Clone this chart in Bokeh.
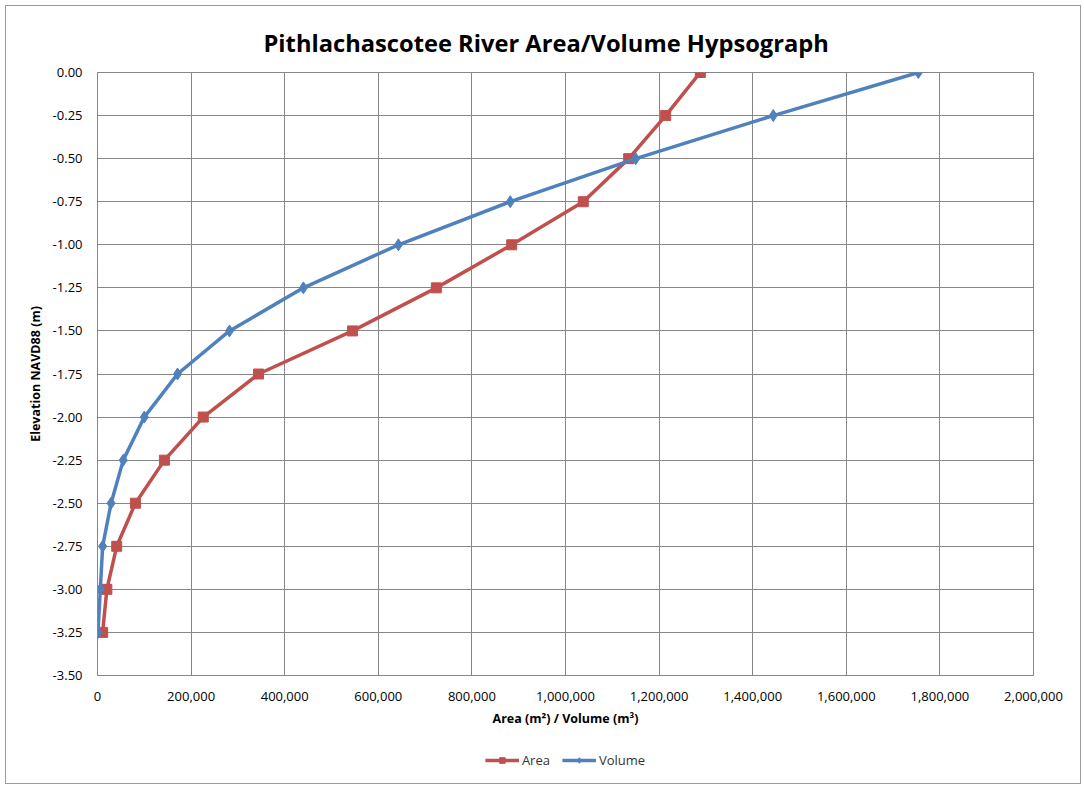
from bokeh.plotting import figure
from bokeh.layouts import column
from bokeh.models import (Legend, LegendItem, FixedTicker, NumeralTickFormatter,
                          Title)
from bokeh.embed import file_html
from bokeh.resources import INLINE

elevation = [0.00, -0.25, -0.50, -0.75, -1.00, -1.25, -1.50, -1.75,
             -2.00, -2.25, -2.50, -2.75, -3.00, -3.25]
area = [1288000, 1214000, 1135000, 1038000, 885000, 724000, 545000, 344000,
        226000, 143000, 81000, 41000, 20000, 11000]
volume = [1754000, 1444000, 1150000, 882000, 643000, 440000, 282000, 171000,
          100000, 55000, 29000, 11000, 6000, 1000]

x_ticks = [0, 200000, 400000, 600000, 800000, 1000000, 1200000, 1400000,
           1600000, 1800000, 2000000]
y_ticks = [0.00, -0.25, -0.50, -0.75, -1.00, -1.25, -1.50, -1.75, -2.00,
           -2.25, -2.50, -2.75, -3.00, -3.25, -3.50]

FONT = "Open Sans"
RED = "#C0504D"
BLUE = "#4F81BD"
GRID = "#868686"

p = figure(frame_width=936, frame_height=603, output_backend="svg",
           toolbar_location=None,
           x_range=(0, 2000000), y_range=(-3.5, 0.0),
           min_border_left=91, min_border_right=47, min_border_top=66,
           min_border_bottom=62)

p.title = Title(text="Pithlachascotee River Area/Volume Hypsograph",
                align="left", text_font=FONT, text_font_size="23.7px",
                text_font_style="bold", text_color="#000000", offset=166,
                standoff=28)

p.xaxis.ticker = FixedTicker(ticks=x_ticks)
p.yaxis.ticker = FixedTicker(ticks=y_ticks)
p.xaxis.formatter = NumeralTickFormatter(format="0,0")
p.yaxis.formatter = NumeralTickFormatter(format="0.00")

for ax in (p.xaxis, p.yaxis):
    ax.major_label_text_font = FONT
    ax.major_label_text_font_size = "13px"
    ax.major_label_text_color = "#000000"
    ax.axis_label_text_font = FONT
    ax.axis_label_text_font_size = "12.5px"
    ax.axis_label_text_font_style = "bold"
    ax.axis_label_text_color = "#000000"
    ax.axis_line_color = GRID
    ax.major_tick_line_color = None
    ax.minor_tick_line_color = None

p.xaxis.axis_label = "Area (m²) / Volume (m³)"
p.yaxis.axis_label = "Elevation NAVD88 (m)"
p.xaxis.major_label_standoff = 10
p.xaxis.axis_label_standoff = 6
p.yaxis.major_label_standoff = 9
p.yaxis.axis_label_standoff = 6

p.xgrid.grid_line_color = GRID
p.ygrid.grid_line_color = GRID
p.xgrid.grid_line_width = 1
p.ygrid.grid_line_width = 1
p.outline_line_color = GRID
p.outline_line_width = 1

p.line(area, elevation, line_color=RED, line_width=3.5)
p.scatter(area, elevation, marker="square", size=10, fill_color=RED,
          line_color=RED)
p.line(volume, elevation, line_color=BLUE, line_width=3.5)
p.scatter(volume, elevation, marker="diamond", size=12, fill_color=BLUE,
          line_color=BLUE)

# legend strip (a second figure whose data lies outside its view)
lg = figure(width=1074, height=46, output_backend="svg", toolbar_location=None,
            x_range=(5000000, 5000001), y_range=(5, 6),
            min_border_left=0, min_border_right=0, min_border_top=0,
            min_border_bottom=0)
lg.axis.visible = False
lg.grid.visible = False
lg.outline_line_color = None
ra = lg.line(area, elevation, line_color=RED, line_width=3.5)
rs = lg.scatter(area, elevation, marker="square", size=10, fill_color=RED,
                line_color=RED)
vl = lg.line(volume, elevation, line_color=BLUE, line_width=3.5)
vs = lg.scatter(volume, elevation, marker="diamond", size=12, fill_color=BLUE,
                line_color=BLUE)

legend = Legend(items=[LegendItem(label="Area", renderers=[ra, rs]),
                       LegendItem(label="Volume", renderers=[vl, vs])],
                orientation="horizontal", location="center",
                label_text_font=FONT, label_text_font_size="13px",
                label_text_color="#333333", border_line_color=None,
                background_fill_alpha=0, glyph_width=34, glyph_height=14,
                label_standoff=3, spacing=12, padding=4, margin=0)
lg.add_layout(legend, "center")

layout = column(p, lg, spacing=0,
                styles={"border": "1px solid #9a9a9a", "margin": "5px"})

open("out.html", "w").write(file_html(layout, INLINE))
